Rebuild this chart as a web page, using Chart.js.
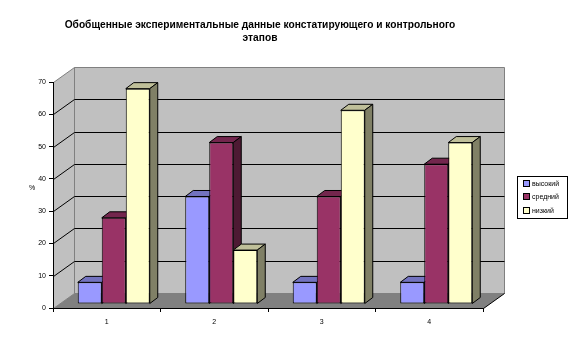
<!DOCTYPE html>
<html>
<head>
<meta charset="utf-8">
<script src="https://cdn.jsdelivr.net/npm/chart.js@4"></script>
<style>
html,body{margin:0;padding:0;background:#fff;}
#wrap{width:578px;height:344px;position:relative;}
</style>
</head>
<body>
<div id="wrap"><canvas id="c" width="578" height="344"></canvas></div>
<script>
const titleLines = ['Обобщенные экспериментальные данные констатирующего и контрольного', 'этапов'];
const categories = ['1', '2', '3', '4'];
const seriesNames = ['высокий', 'средний', 'низкий'];
const vysokiy = [6.7, 33.3, 6.7, 6.7];
const sredniy = [26.7, 50, 33.3, 43.3];
const nizkiy = [66.7, 16.7, 60, 50];
const yTicks = [0, 10, 20, 30, 40, 50, 60, 70];
const yLabel = '%';

const frontColors = ['#9999ff', '#993366', '#ffffcc'];
const topColors = ['#7373bf', '#73264d', '#bfbf99'];
const sideColors = ['#4d4d80', '#4d1a33', '#808066'];

const DX = 21, DY = -15;      // wall depth
const BX = 7, BY = -4;        // bar plane offset
const BDX = 8, BDY = -6;      // bar depth

const font = 'Arial, "Liberation Sans", sans-serif';

function poly(ctx, pts, fill, stroke) {
  ctx.beginPath();
  ctx.moveTo(pts[0][0], pts[0][1]);
  for (let i = 1; i < pts.length; i++) ctx.lineTo(pts[i][0], pts[i][1]);
  ctx.closePath();
  if (fill) { ctx.fillStyle = fill; ctx.fill(); }
  if (stroke) { ctx.strokeStyle = stroke; ctx.lineWidth = 1; ctx.stroke(); }
}

const threeD = {
  id: 'threeD',
  beforeDraw(chart) {
    const ctx = chart.ctx;
    const ca = chart.chartArea;
    const ys = chart.scales.y;
    const L = Math.round(ca.left) + 0.5, R = Math.round(ca.right) + 0.5;
    const T = Math.round(ca.top) + 0.5, B = Math.round(ca.bottom) + 0.5;
    ctx.save();
    ctx.fillStyle = '#ffffff';
    ctx.fillRect(0, 0, chart.width, chart.height);
    poly(ctx, [[L, T], [L + DX, T + DY], [L + DX, B + DY], [L, B]], '#c0c0c0', '#808080');
    poly(ctx, [[L + DX, T + DY], [R + DX, T + DY], [R + DX, B + DY], [L + DX, B + DY]], '#c0c0c0', '#808080');
    poly(ctx, [[L, B], [R, B], [R + DX, B + DY], [L + DX, B + DY]], '#808080', null);
    ctx.strokeStyle = '#000';
    ctx.lineWidth = 1;
    ctx.beginPath();
    ctx.moveTo(R, B); ctx.lineTo(R + DX, B + DY);
    ctx.stroke();
    yTicks.forEach(v => {
      if (v === 0 || v === yTicks[yTicks.length - 1]) return;
      const y = Math.round(ys.getPixelForValue(v)) + 0.5;
      ctx.beginPath();
      ctx.moveTo(L, y); ctx.lineTo(L + DX, y + DY); ctx.lineTo(R + DX, y + DY);
      ctx.stroke();
    });
    ctx.restore();
  },
  beforeDatasetsDraw(chart) {
    const ctx = chart.ctx;
    ctx.save();
    ctx.translate(BX, BY);
    const n = chart.data.labels.length;
    for (let i = 0; i < n; i++) {
      chart.data.datasets.forEach((ds, di) => {
        const el = chart.getDatasetMeta(di).data[i];
        if (!el) return;
        const l = el.x - el.width / 2, r = el.x + el.width / 2;
        const t = el.y, b = el.base;
        poly(ctx, [[l, t], [l + BDX, t + BDY], [r + BDX, t + BDY], [r, t]], topColors[di], '#000');
        poly(ctx, [[r, t], [r + BDX, t + BDY], [r + BDX, b + BDY], [r, b]], sideColors[di], '#000');
      });
    }
  },
  afterDatasetsDraw(chart) {
    chart.ctx.restore();
  },
  afterDraw(chart) {
    const ctx = chart.ctx;
    ctx.save();
    ctx.fillStyle = '#000';
    ctx.font = 'bold 10.2px ' + font;
    ctx.textAlign = 'center';
    ctx.textBaseline = 'alphabetic';
    ctx.fillText(titleLines[0], 260, 28);
    ctx.fillText(titleLines[1], 260, 41);
    ctx.font = '7px ' + font;
    ctx.textBaseline = 'middle';
    ctx.fillText(yLabel, 32, 188);
    ctx.strokeStyle = '#000';
    ctx.lineWidth = 1;
    ctx.strokeRect(517.5, 176.5, 50, 42);
    ctx.textAlign = 'left';
    ctx.font = '7px ' + font;
    const ys = [184, 197, 211];
    chart.data.datasets.forEach((ds, di) => {
      const y = ys[di];
      ctx.fillStyle = frontColors[di];
      ctx.fillRect(524, y - 3, 5, 5);
      ctx.strokeRect(523.5, y - 3.5, 6, 6);
      ctx.fillStyle = '#000';
      ctx.fillText(ds.label, 532, y);
    });
    ctx.restore();
  }
};

const datasets = [vysokiy, sredniy, nizkiy].map((d, i) => ({
  label: seriesNames[i],
  data: d,
  backgroundColor: frontColors[i],
  borderColor: '#000',
  borderWidth: 1,
  borderSkipped: false,
  categoryPercentage: 0.67,
  barPercentage: 1.0,
  clip: false
}));

new Chart(document.getElementById('c'), {
  type: 'bar',
  data: { labels: categories, datasets },
  options: {
    responsive: false,
    animation: false,
    events: [],
    layout: { padding: { top: 82, right: 95, left: 0, bottom: 0 } },
    plugins: { legend: { display: false }, title: { display: false }, tooltip: { enabled: false } },
    scales: {
      x: {
        grid: { display: true, offset: true, drawOnChartArea: false, drawTicks: true, tickLength: 4, color: '#000' },
        border: { display: true, color: '#000' },
        ticks: { font: { size: 7, family: font }, color: '#000', padding: 6, maxRotation: 0 },
        afterFit(s) { s.height = 36; }
      },
      y: {
        min: 0, max: 70,
        afterBuildTicks(s) { s.ticks = yTicks.map(v => ({ value: v })); },
        grid: { display: true, drawOnChartArea: false, drawTicks: true, tickLength: 4, color: '#000' },
        border: { display: true, color: '#000' },
        ticks: { font: { size: 7, family: font }, color: '#000', padding: 3 },
        afterFit(s) { s.width = 53; }
      }
    }
  },
  plugins: [threeD]
});
</script>
</body>
</html>
